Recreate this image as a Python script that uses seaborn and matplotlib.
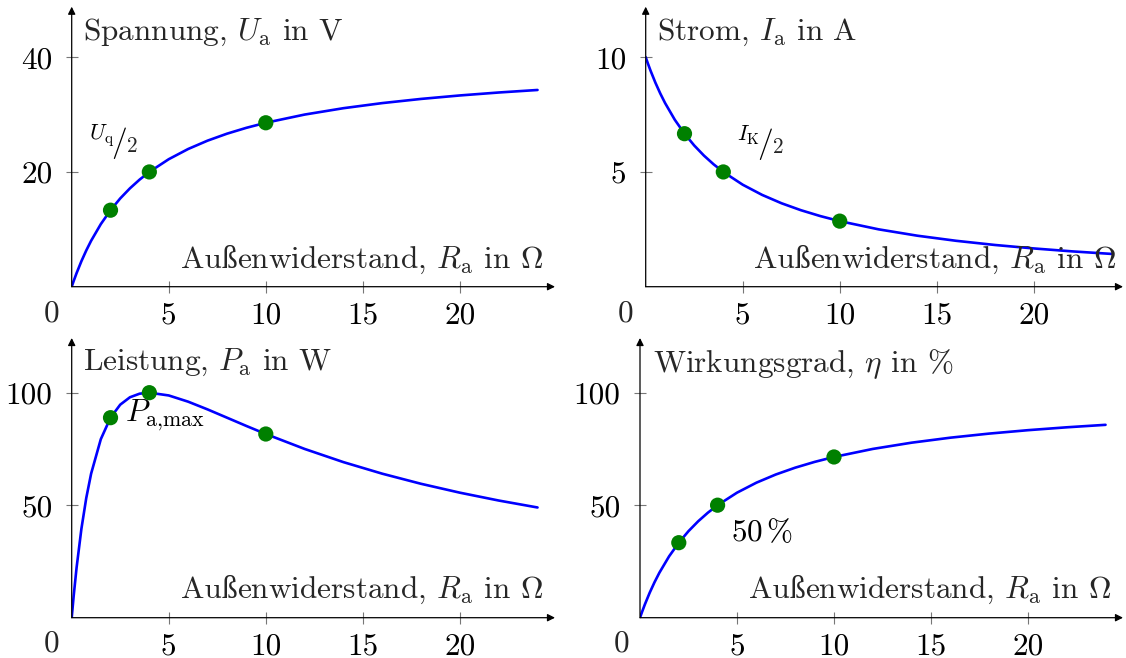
import matplotlib
matplotlib.use("Agg")
import matplotlib.pyplot as plt
import seaborn as sns

# ---- data (R_a in Ohm) ----
R_curve = [0, 0.1, 0.25, 0.5, 0.75, 1, 1.5, 2, 2.5, 3, 3.5, 4, 5, 6, 7, 8, 9, 10,
           12, 14, 16, 18, 20, 22, 24]
U_curve = [0, 0.976, 2.353, 4.444, 6.316, 8.0, 10.909, 13.333, 15.385, 17.143, 18.667,
           20.0, 22.222, 24.0, 25.455, 26.667, 27.692, 28.571, 30.0, 31.111, 32.0,
           32.727, 33.333, 33.846, 34.286]
I_curve = [10.0, 9.756, 9.412, 8.889, 8.421, 8.0, 7.273, 6.667, 6.154, 5.714, 5.333,
           5.0, 4.444, 4.0, 3.636, 3.333, 3.077, 2.857, 2.5, 2.222, 2.0, 1.818, 1.667,
           1.538, 1.429]
P_curve = [0, 9.518, 22.145, 39.506, 53.186, 64.0, 79.339, 88.889, 94.675, 97.959,
           99.556, 100.0, 98.765, 96.0, 92.562, 88.889, 85.207, 81.633, 75.0, 69.136,
           64.0, 59.504, 55.556, 52.071, 48.980]
eta_curve = [0, 2.439, 5.882, 11.111, 15.789, 20.0, 27.273, 33.333, 38.462, 42.857,
             46.667, 50.0, 55.556, 60.0, 63.636, 66.667, 69.231, 71.429, 75.0, 77.778,
             80.0, 81.818, 83.333, 84.615, 85.714]

R_points = [2, 4, 10]
U_points = [13.333, 20.0, 28.571]
I_points = [6.667, 5.0, 2.857]
P_points = [88.889, 100.0, 81.633]
eta_points = [33.333, 50.0, 71.429]

x_ticks = [5, 10, 15, 20]
x_ticklabels = ["5", "10", "15", "20"]
U_ticks, U_ticklabels = [20, 40], ["20", "40"]
I_ticks, I_ticklabels = [5, 10], ["5", "10"]
P_ticks, P_ticklabels = [50, 100], ["50", "100"]
eta_ticks, eta_ticklabels = [50, 100], ["50", "100"]

# x label split so that "ß" can come from a font that really has it
xlabel_parts = ["Au", "ß", r"enwiderstand, $R_\mathrm{a}$ in $\Omega$"]
ylabels = [r"Spannung, $U_\mathrm{a}$ in V", r"Strom, $I_\mathrm{a}$ in A",
           r"Leistung, $P_\mathrm{a}$ in W", r"Wirkungsgrad, $\eta$ in %"]
notes = [(r"${}^{U_\mathrm{q}}\!/$", "2"), (r"${}^{I_\mathrm{K}}\!/$", "2"),
         (r"$P_\mathrm{a,\!max}$", None), (r"50$\,$%", None)]

# ---- style ----
sns.set_theme(style="white")
plt.rcParams["font.family"] = ["cmr10", "DejaVu Serif"]
plt.rcParams["mathtext.fontset"] = "cm"
plt.rcParams["axes.unicode_minus"] = False
FS = 22.5
SS_FONT = "Liberation Serif"

W, H = 1126, 658
fig = plt.figure(figsize=(W / 100, H / 100), dpi=100)
renderer = fig.canvas.get_renderer()


def fx(x):
    return x / W


def fy(y):
    return 1 - y / H


panels = [
    dict(box=(71.7, 555, 286.7, 6.7), xmax=24.9, ymax=48.8, y=U_curve, py=U_points,
         yt=U_ticks, ytl=U_ticklabels, ylab=(83.3, 40), xlab=(543.3, 268.3),
         zero=(51.7, 321.7), note=(0.86, 23.4)),
    dict(box=(645.7, 1123, 286.7, 6.7), xmax=24.6, ymax=12.2, y=I_curve, py=I_points,
         yt=I_ticks, ytl=I_ticklabels, ylab=(656.7, 40), xlab=(1116.7, 268.3),
         zero=(626, 321.7), note=(4.64, 5.83)),
    dict(box=(71.7, 555, 617.7, 338), xmax=24.9, ymax=124.3, y=P_curve, py=P_points,
         yt=P_ticks, ytl=P_ticklabels, ylab=(83.3, 370), xlab=(543.3, 598.3),
         zero=(51.7, 651.7), note=(2.75, 87.2)),
    dict(box=(640, 1123, 617.7, 338), xmax=24.9, ymax=124.3, y=eta_curve, py=eta_points,
         yt=eta_ticks, ytl=eta_ticklabels, ylab=(653, 372), xlab=(1111.7, 598.3),
         zero=(621.7, 651.7), note=(4.68, 34.2)),
]

for i, p in enumerate(panels):
    l, r, b, t = p["box"]
    ax = fig.add_axes([fx(l), fy(b), (r - l) / W, (b - t) / H])
    ax.set_facecolor("none")
    sns.lineplot(x=R_curve, y=p["y"], ax=ax, color="#0000ff", linewidth=1.9,
                 sort=False, estimator=None, zorder=2)
    sns.scatterplot(x=R_points, y=p["py"], ax=ax, color="#008000", s=120,
                    edgecolor="none", linewidth=0, zorder=3)
    ax.set_xlim(0, p["xmax"])
    ax.set_ylim(0, p["ymax"])
    for s in ax.spines.values():
        s.set_visible(False)
    ax.set_xticks(x_ticks, x_ticklabels)
    ax.set_yticks(p["yt"], p["ytl"])
    ax.tick_params(axis="both", direction="inout", length=8, width=0.8,
                   color="#777777", labelsize=FS, labelcolor="black")
    ax.tick_params(axis="x", pad=6.5, bottom=True)
    ax.tick_params(axis="y", pad=10, left=True)
    ax.set_xlabel("")
    ax.set_ylabel("")
    arrow = dict(arrowstyle="-|>", color="black", lw=0.9, shrinkA=0, shrinkB=0,
                 mutation_scale=11)
    ax.annotate("", xy=(1, 0), xytext=(0, 0), xycoords="axes fraction",
                textcoords="axes fraction", arrowprops=arrow, annotation_clip=False)
    ax.annotate("", xy=(0, 1), xytext=(0, 0), xycoords="axes fraction",
                textcoords="axes fraction", arrowprops=arrow, annotation_clip=False)

    # annotation next to the points
    nx, ny = p["note"]
    main, denom = notes[i]
    tn = ax.text(nx, ny, main, fontsize=FS, ha="left", va="baseline", color="black")
    if denom is not None:
        wpx = tn.get_window_extent(renderer).width
        ax.annotate(denom, xy=(nx, ny), xycoords="data", xytext=(wpx, 0),
                    textcoords="offset pixels", fontsize=FS * 0.68,
                    ha="left", va="baseline")

    # y label (top-left)
    fig.text(fx(p["ylab"][0]), fy(p["ylab"][1]), ylabels[i], fontsize=FS,
             ha="left", va="baseline")

    # x label (right end), built right-to-left
    xr, yb = p["xlab"]
    x_cur = xr
    fams = [None, SS_FONT, None]
    for part, fam in zip(reversed(xlabel_parts), reversed(fams)):
        kw = dict(fontsize=FS, ha="right", va="baseline")
        if fam is not None:
            kw["family"] = fam
        tt = fig.text(fx(x_cur), fy(yb), part, **kw)
        x_cur = tt.get_window_extent(renderer).x0

    fig.text(fx(p["zero"][0]), fy(p["zero"][1]), "0", fontsize=FS,
             ha="center", va="baseline")

fig.savefig("out.png", dpi=100)
